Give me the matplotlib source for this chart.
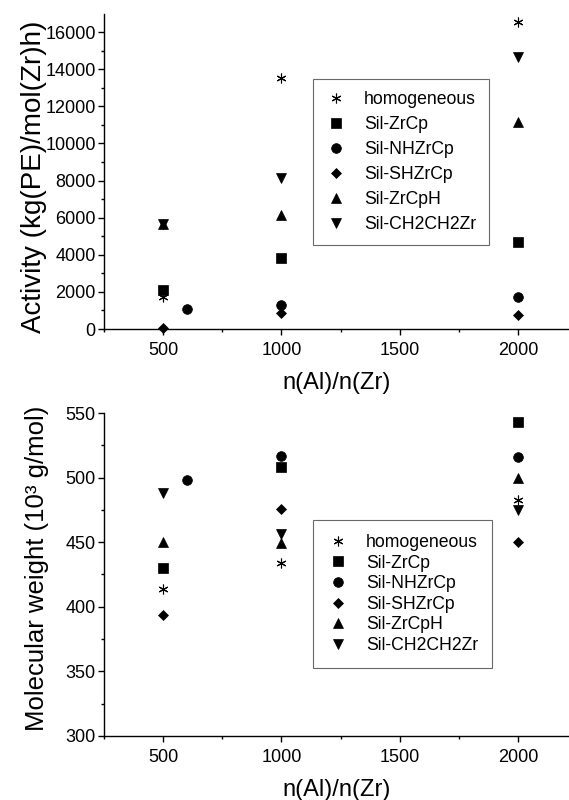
import matplotlib
matplotlib.use("Agg")
import matplotlib.pyplot as plt
from matplotlib.ticker import MultipleLocator

plt.rcParams['font.family'] = ['Liberation Sans', 'DejaVu Sans']

series = ["homogeneous", "Sil-ZrCp", "Sil-NHZrCp", "Sil-SHZrCp", "Sil-ZrCpH", "Sil-CH2CH2Zr"]

# x positions (n(Al)/n(Zr)) for each series
x_homog = [500, 1000, 2000]
x_zrcp = [500, 1000, 2000]
x_nh = [600, 1000, 2000]
x_sh = [500, 1000, 2000]
x_cph = [500, 1000, 2000]
x_ch2 = [500, 1000, 2000]

# Activity (kg(PE)/mol(Zr)h)
act_homog = [1750, 13520, 16550]
act_zrcp = [2100, 3810, 4690]
act_nh = [1080, 1290, 1720]
act_sh = [60, 850, 755]
act_cph = [5660, 6140, 11160]
act_ch2 = [5660, 8120, 14660]

# Molecular weight (10^3 g/mol)
mw_homog = [414, 434, 483]
mw_zrcp = [430, 508, 543]
mw_nh = [498, 517, 516]
mw_sh = [394, 476, 450.5]
mw_cph = [450, 449, 500]
mw_ch2 = [488, 456, 475]

xs = [x_homog, x_zrcp, x_nh, x_sh, x_cph, x_ch2]
acts = [act_homog, act_zrcp, act_nh, act_sh, act_cph, act_ch2]
mws = [mw_homog, mw_zrcp, mw_nh, mw_sh, mw_cph, mw_ch2]

markers = [(6, 2, 0), 's', 'o', 'D', '^', 'v']
msizes = [7, 6.5, 7, 5.5, 7.5, 7.5]

W, H = 569, 800
fig = plt.figure(figsize=(W / 100, H / 100), dpi=100)

ax1 = fig.add_axes([104 / W, 1 - 329 / H, 465 / W, (329 - 14) / H])
ax2 = fig.add_axes([104 / W, 1 - 736 / H, 465 / W, (736 - 413) / H])


def style(ax):
    for s in ('top', 'right'):
        ax.spines[s].set_visible(False)
    for s in ('left', 'bottom'):
        ax.spines[s].set_linewidth(1.0)
    ax.tick_params(which='major', direction='out', length=4, width=1.0, labelsize=13)
    ax.tick_params(axis='y', which='major', pad=2)
    ax.tick_params(axis='x', which='major', pad=5.5)
    ax.tick_params(which='minor', direction='out', length=2.5, width=1.0)
    ax.set_xlim(250, 2215)
    ax.xaxis.set_major_locator(MultipleLocator(500))
    ax.xaxis.set_minor_locator(MultipleLocator(250))
    ax.set_xlabel("n(Al)/n(Zr)", fontsize=17, labelpad=9)


for i in range(6):
    ew = 0.8 if i == 0 else 0.5
    ax1.plot(xs[i], acts[i], linestyle='none', marker=markers[i], markersize=msizes[i],
             color='black', markeredgewidth=ew, label=series[i], clip_on=False)
    ax2.plot(xs[i], mws[i], linestyle='none', marker=markers[i], markersize=msizes[i],
             color='black', markeredgewidth=ew, label=series[i], clip_on=False)

style(ax1)
style(ax2)

ax1.set_ylim(0, 16970)
ax1.yaxis.set_major_locator(MultipleLocator(2000))
ax1.yaxis.set_minor_locator(MultipleLocator(1000))
ax1.set_ylabel("Activity (kg(PE)/mol(Zr)h)", fontsize=20, va='center')
ax1.yaxis.set_label_coords((34 - 104) / 465, (329 - 177) / 315)

ax2.set_ylim(300, 550)
ax2.yaxis.set_major_locator(MultipleLocator(50))
ax2.yaxis.set_minor_locator(MultipleLocator(25))
ax2.set_ylabel("Molecular weight (10³ g/mol)", fontsize=18.5, va='center')
ax2.yaxis.set_label_coords((37 - 104) / 465, (736 - 568) / 323)

leg1 = ax1.legend(loc='upper left', bbox_to_anchor=(209 / 465, (329 - 79) / 315),
                  fontsize=12.7, frameon=True, fancybox=False, edgecolor='#444444',
                  labelspacing=0.45, handletextpad=1.0, borderpad=0.7, handlelength=1.2,
                  borderaxespad=0)
leg1.get_frame().set_linewidth(0.8)

leg2 = ax2.legend(loc='upper left', bbox_to_anchor=(209 / 465, (736 - 520) / 323),
                  fontsize=12.7, frameon=True, fancybox=False, edgecolor='#444444',
                  labelspacing=0.2, handletextpad=1.0, borderpad=0.8, handlelength=1.2,
                  borderaxespad=0)
leg2.get_frame().set_linewidth(0.8)

fig.savefig("out.png", dpi=100)
